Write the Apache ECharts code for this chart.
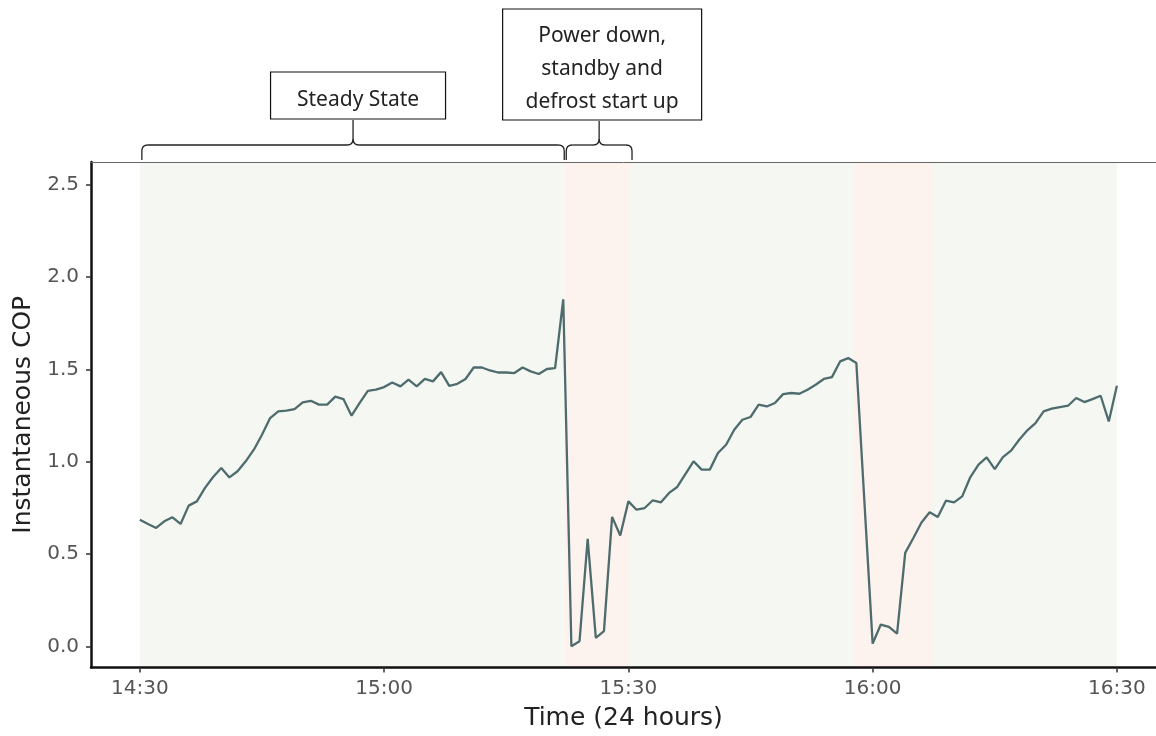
<!DOCTYPE html>
<html><head><meta charset="utf-8">
<script src="https://cdn.jsdelivr.net/npm/echarts@6/dist/echarts.min.js"></script>
<style>html,body{margin:0;padding:0;background:#fff}#c{width:1156px;height:736px}</style>
</head><body><div id="c"></div><script>
// ---- data ----
const startClock = '14:30';
// minutes after 14:30 for each reading
const minuteOffsets = [0,1,2,3,4,5,6,7,8,9,10,11,12,13,14,15,16,17,18,19,20,21,22,23,24,25,26,27,28,29,
  30,31,32,33,34,35,36,37,38,39,40,41,42,43,44,45,46,47,48,49,50,51,52,53,54,55,56,57,58,59,
  60,61,62,63,64,65,66,67,68,69,70,71,72,73,74,75,76,77,78,79,80,81,82,83,84,85,86,87,88,
  90,91,92,93,94,95,96,97,98,99,100,101,102,103,104,105,106,107,108,109,110,111,112,113,114,115,116,117,118,119,120];
const copValues = [0.687,0.664,0.642,0.678,0.700,0.664,0.763,0.786,0.859,0.918,0.967,0.916,0.949,1.003,1.066,1.147,1.237,1.273,1.277,1.286,1.322,1.331,1.310,1.310,1.353,1.340,1.250,1.319,1.385,1.391,
  1.405,1.430,1.409,1.445,1.409,1.449,1.436,1.486,1.412,1.423,1.449,1.511,1.511,1.495,1.484,1.484,1.481,1.511,1.490,1.476,1.503,1.508,1.880,0.002,0.029,0.583,0.047,0.083,0.702,0.601,
  0.786,0.741,0.750,0.792,0.781,0.832,0.864,0.934,1.003,0.958,0.958,1.048,1.093,1.174,1.228,1.243,1.310,1.300,1.319,1.367,1.373,1.369,1.391,1.418,1.449,1.459,1.544,1.562,1.535,
  0.016,0.119,0.106,0.070,0.507,0.588,0.672,0.727,0.702,0.790,0.781,0.813,0.918,0.985,1.024,0.961,1.026,1.061,1.120,1.171,1.210,1.273,1.288,1.297,1.304,1.346,1.324,1.340,1.358,1.219,1.412];
const xTickLabels = ['14:30','15:00','15:30','16:00','16:30'];
const yTickValues = [0, 0.5, 1.0, 1.5, 2.0, 2.5];
const steadyPhases = [[0, 52], [60.2, 87.7], [97.3, 120]];
const transientPhases = [[52, 60.2], [87.7, 97.3]];
const phaseNotes = ['Steady State', 'Power down,\nstandby and\ndefrost start up'];

// ---- helpers ----
function clockToMin(s){ const p = s.split(':'); return (+p[0])*60 + (+p[1]); }
function minToClock(m){ const h = Math.floor(m/60), mm = Math.round(m - h*60); return h + ':' + String(mm).padStart(2,'0'); }
const t0 = clockToMin(startClock);
const seriesData = minuteOffsets.map((m,i) => [t0 + m, copValues[i]]);
const xTicks = xTickLabels.map(clockToMin);

const AXF = 'DejaVu Sans';
const BOXF = 'Noto Sans';
const chart = echarts.init(document.getElementById('c'), null, {renderer:'canvas'});
const area = (arr, color) => arr.map(p => [{xAxis: t0+p[0], itemStyle:{color}}, {xAxis: t0+p[1]}]);

chart.setOption({
  animation: false,
  backgroundColor: '#ffffff',
  grid: {left: 91, right: 0, top: 162, bottom: 68, containLabel: false},
  xAxis: [{
    type: 'value', min: t0 - 6, max: t0 + 124.8, z: 10,
    name: 'Time (24 hours)', nameLocation: 'middle', nameGap: 51,
    nameTextStyle: {fontFamily: AXF, fontSize: 25, color: '#222', verticalAlign: 'middle'},
    axisLine: {show: true, onZero: false, lineStyle: {color: '#111', width: 2.5}},
    axisTick: {show: true, length: 5, customValues: xTicks, lineStyle: {color: '#333', width: 1.5}},
    axisLabel: {customValues: xTicks, formatter: v => minToClock(v), fontFamily: AXF, fontSize: 20, color: '#555', margin: 11},
    splitLine: {show: false}
  }, {
    type: 'value', position: 'top', min: t0 - 6, max: t0 + 124.8, z: 10,
    axisLine: {show: true, onZero: false, lineStyle: {color: '#666', width: 1}},
    axisTick: {show: false}, axisLabel: {show: false}, splitLine: {show: false}
  }],
  yAxis: {
    type: 'value', min: -0.1136, max: 2.624, z: 10,
    name: 'Instantaneous COP', nameLocation: 'middle', nameGap: 68, nameRotate: 90,
    nameTextStyle: {fontFamily: AXF, fontSize: 25, color: '#222', verticalAlign: 'middle'},
    axisLine: {show: true, onZero: false, lineStyle: {color: '#111', width: 2.5}},
    axisTick: {show: true, length: 5, customValues: yTickValues, lineStyle: {color: '#333', width: 1.5}},
    axisLabel: {customValues: yTickValues, formatter: v => v.toFixed(1), fontFamily: AXF, fontSize: 20, color: '#555', margin: 12},
    splitLine: {show: false}
  },
  series: [{
    type: 'line', data: [], silent: true,
    markArea: {silent: true, data: area(steadyPhases, '#f5f8f2').concat(area(transientPhases, '#fdf3ee'))}
  }, {
    type: 'line', data: seriesData, showSymbol: false, z: 5,
    lineStyle: {color: '#4e6b6d', width: 2.3}
  }]
});

// ---- annotations: braces + boxes ----
const px = v => chart.convertToPixel({xAxisIndex: 0}, t0 + v);
const g = [];
const ST = {stroke: '#222', lineWidth: 1.3, fill: 'none'};
function ln(x1,y1,x2,y2){ g.push({type:'line', shape:{x1,y1,x2,y2}, style: ST, z: 20}); }
function qc(x1,y1,cx,cy,x2,y2){ g.push({type:'bezierCurve', shape:{x1,y1,x2,y2,cpx1:cx,cpy1:cy}, style: ST, z: 20}); }
function brace(x0, x1, xm, yStem, yH, yTip){
  const r = 6;
  ln(x0, yTip, x0, yH + r); qc(x0, yH + r, x0, yH, x0 + r, yH); ln(x0 + r, yH, xm - r, yH);
  qc(xm - r, yH, xm, yH, xm, yH - r); ln(xm, yH - r, xm, yStem);
  qc(xm, yH - r, xm, yH, xm + r, yH); ln(xm + r, yH, x1 - r, yH);
  qc(x1 - r, yH, x1, yH, x1, yH + r); ln(x1, yH + r, x1, yTip);
}
const b1x0 = px(0)+2, b1x1 = px(52)+1, b1m = (b1x0+b1x1)/2;
const b2x0 = px(52)+3, b2x1 = px(60.2)+2, b2m = (b2x0+b2x1)/2;
brace(b1x0, b1x1, b1m, 120, 145, 160);
brace(b2x0, b2x1, b2m, 121, 145, 160);
function box(cx, top, w, h, text){
  g.push({type:'rect', shape:{x: cx - w/2, y: top, width: w, height: h}, style:{fill:'#fff', stroke:'#111', lineWidth:1.2}, z: 20});
  g.push({type:'text', x: cx, y: top + h/2 + 4.5, style:{text, fontFamily: BOXF, fontSize: 21, fill:'#222', align:'center', verticalAlign:'middle', lineHeight: 33}, z: 21});
}
box(b1m + 5, 72, 175, 47, phaseNotes[0]);
box(b2m + 3, 9, 199, 111, phaseNotes[1]);
chart.setOption({graphic: g});
</script></body></html>
